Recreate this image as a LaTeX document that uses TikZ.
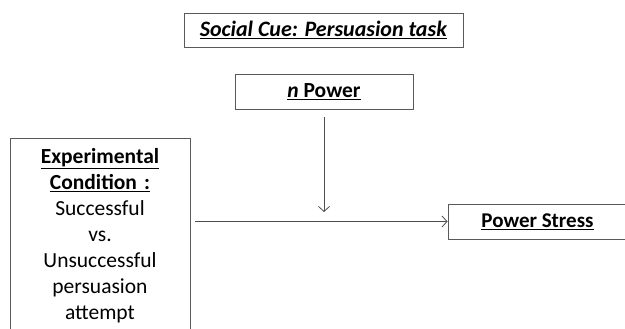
\documentclass[tikz,border=0pt]{standalone}
\usepackage{fontspec}
\setmainfont{Carlito}
\usepackage{tikz}
\usetikzlibrary{arrows.meta}

\begin{document}
\begin{tikzpicture}[x=1pt, y=-1pt,
        box/.style={draw=black!65, line width=0.9pt, inner sep=0pt, align=center},
        link/.style={draw=black!70, line width=0.8pt, -{Straight Barb[length=5pt, width=11pt]}}]
    \useasboundingbox (0,0) rectangle (625,329);
    \clip (0,0) rectangle (625,329);
        \node[box, minimum width=279pt, minimum height=34pt, font=\fontsize{22}{26}\selectfont] (cue) at (323.5,30)
            {\underline{\textbf{\textit{Social Cue: Persuasion task}}}};
        \node[box, minimum width=178pt, minimum height=35pt, font=\fontsize{21.5}{26}\selectfont] (npower) at (324,91.5)
            {\underline{\textbf{\textit{n} Power}}};
        \node[box, anchor=north, text width=180pt, minimum height=194pt, font=\fontsize{21.5}{26}\selectfont] (cond) at (100,138)
            {\underline{\textbf{Experimental}}\\ \underline{\textbf{Condition :}}\\ Successful\\ vs.\\ Unsuccessful\\ persuasion\\ attempt};
        \node[box, minimum width=179pt, minimum height=35pt, font=\fontsize{21}{26}\selectfont] (stress) at (537.5,221.5)
            {\underline{\textbf{Power Stress}}};
        \coordinate (meet) at (324,212);
    \draw[link, shorten <=8pt] (npower.south) -- (meet);
    \draw[link, shorten <=5pt] (cond.east |- stress.west) -- (stress.west);
\end{tikzpicture}
\end{document}
